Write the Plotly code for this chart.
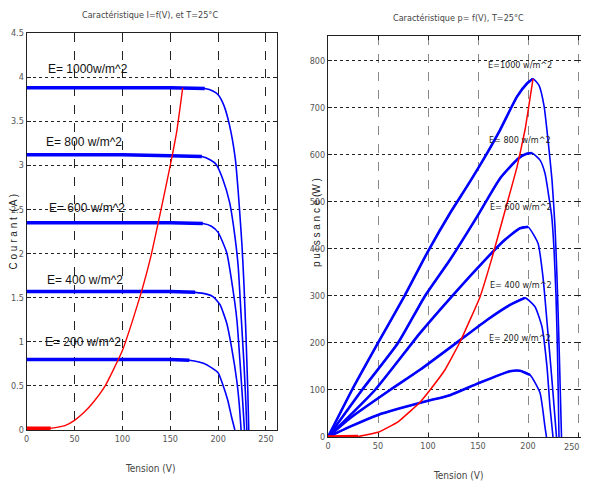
import plotly.graph_objects as go

# ---------------- data: left panel, I = f(V) ----------------
v_1000 = [0, 50, 100, 150, 186, 195, 200, 206, 212, 218, 221, 223, 225, 227, 229, 231, 232]
i_1000 = [3.88, 3.88, 3.88, 3.88, 3.87, 3.84, 3.80, 3.68, 3.45, 3.07, 2.70, 2.40, 2.08, 1.65, 1.10, 0.45, 0]
v_800 = [0, 50, 100, 150, 183, 192, 198, 205, 212, 217.6, 221, 224, 227, 229, 230]
i_800 = [3.12, 3.12, 3.12, 3.11, 3.10, 3.06, 3.01, 2.84, 2.58, 2.19, 1.85, 1.30, 0.75, 0.30, 0]
v_600 = [0, 50, 100, 150, 184, 193, 200, 209, 214, 219.6, 223, 225.5, 227.5]
i_600 = [2.35, 2.35, 2.35, 2.35, 2.34, 2.31, 2.24, 2.01, 1.70, 1.25, 0.75, 0.35, 0]
v_400 = [0, 50, 100, 150, 176, 188, 195, 202, 209, 214, 219.6, 222, 224]
i_400 = [1.57, 1.57, 1.57, 1.57, 1.56, 1.54, 1.51, 1.42, 1.21, 0.94, 0.55, 0.30, 0]
v_200 = [0, 50, 100, 150, 170, 180, 188, 200, 205, 210, 214, 217.5]
i_200 = [0.80, 0.80, 0.80, 0.80, 0.79, 0.77, 0.74, 0.65, 0.51, 0.34, 0.15, 0]
v_red_i = [0, 25, 40, 50, 60, 70, 82, 90, 100, 110, 120, 130, 140, 150, 157, 163]
i_red = [0.02, 0.02, 0.05, 0.11, 0.20, 0.32, 0.50, 0.67, 0.90, 1.22, 1.57, 1.98, 2.48, 3.00, 3.40, 3.88]

# ---------------- data: right panel, P = f(V) ----------------
pv_1000 = [0, 24, 50, 77, 100, 122, 139, 155, 172, 189, 199, 205, 211, 216, 220, 224, 227, 229, 231, 232.5, 233.5]
p_1000 = [0, 100, 200, 302, 395, 476, 533, 589, 653, 724, 752, 762, 748, 705, 632, 547, 447, 340, 200, 80, 0]
pv_800 = [0, 34, 70, 97, 122, 150, 172, 190, 198, 204, 212, 217, 220.3, 223.7, 226, 228, 229.5, 231]
p_800 = [0, 100, 200, 300, 377, 472, 550, 592, 602, 604, 589, 561, 519, 470, 400, 300, 180, 0]
pv_600 = [0, 47, 92, 125, 159, 175, 192, 200, 210, 215, 220, 224, 227, 228.5]
p_600 = [0, 100, 221, 302, 381, 416, 444, 447, 412, 340, 220, 120, 40, 0]
pv_400 = [0, 22, 62, 92, 132, 159, 182, 197, 207, 214, 219, 222, 225]
p_400 = [0, 40, 100, 143, 206, 249, 281, 296, 277, 234, 149, 64, 0]
pv_200 = [0, 22, 50, 72, 100, 122, 150, 182, 192, 202, 212, 217, 218.5]
p_200 = [0, 22, 47, 61, 77, 89, 114, 140, 141, 132, 94, 21, 0]
v_red_p = [0, 30, 50, 70, 92, 102, 117, 132, 152, 164, 180, 189, 197, 205]
p_red = [0, 1, 10, 32, 74, 100, 143, 202, 298, 381, 504, 574, 653, 762]

irradiance_labels_left = ["E= 1000w/m^2", "E= 800 w/m^2", "E= 600 w/m^2", "E= 400 w/m^2", "E= 200 w/m^2"]
label_pos_left_v = [64, 60, 63, 61, 59]
label_pos_left_i = [4.09, 3.26, 2.52, 1.70, 1.00]
irradiance_labels_right = ["E=1000 w/m^2", "E= 800 w/m^2", "E= 600 w/m^2", "E= 400 w/m^2", "E= 200 w/m^2"]
label_pos_right_v = [192, 192, 193, 193, 192]
label_pos_right_p = [791, 632, 489, 323, 210]

x_ticks = [0, 50, 100, 150, 200, 250]
x_tick_text = ["0", "50", "100", "150", "200", "250"]
x2_tick_text = ["0", "50", "100", "150", "200", ""]
i_ticks = [0, 0.5, 1, 1.5, 2, 2.5, 3, 3.5, 4, 4.5]
i_tick_text = ["0", "0.5", "1", "1.5", "2", "2.5", "3", "3.5", "4", "4.5"]
p_ticks = [0, 100, 200, 300, 400, 500, 600, 700, 800]

BLUE = "#0000ff"
RED = "#ff0000"
NARROW = "Liberation Sans Narrow, DejaVu Sans Condensed, Arial Narrow, Liberation Sans, sans-serif"
SANS = "Liberation Sans, Arial, sans-serif"

OFF = 8          # the page places the figure 8 px from the top-left corner
W, H = 589 - 2 * OFF, 489 - 2 * OFF

fig = go.Figure()

# left panel curves
iv_sets = [(v_1000, i_1000, 5), (v_800, i_800, 5), (v_600, i_600, 5), (v_400, i_400, 5), (v_200, i_200, 5)]
for v, i, nflat in iv_sets:
    fig.add_trace(go.Scatter(x=v, y=i, mode="lines", xaxis="x", yaxis="y",
                             line=dict(color=BLUE, width=1.6, shape="spline", smoothing=0.5),
                             hoverinfo="skip"))
    fig.add_trace(go.Scatter(x=v[:nflat], y=i[:nflat], mode="lines", xaxis="x", yaxis="y",
                             line=dict(color=BLUE, width=3.5), hoverinfo="skip"))
fig.add_trace(go.Scatter(x=v_red_i, y=i_red, mode="lines", xaxis="x", yaxis="y",
                         line=dict(color=RED, width=1.4, shape="spline", smoothing=0.4), hoverinfo="skip"))
fig.add_trace(go.Scatter(x=v_red_i[:2], y=i_red[:2], mode="lines", xaxis="x", yaxis="y",
                         line=dict(color=RED, width=3.5), hoverinfo="skip"))

# right panel curves
pv_sets = [(pv_1000, p_1000, 12), (pv_800, p_800, 10), (pv_600, p_600, 8), (pv_400, p_400, 8), (pv_200, p_200, 10)]
for v, p, npk in pv_sets:
    fig.add_trace(go.Scatter(x=v, y=p, mode="lines", xaxis="x2", yaxis="y2",
                             line=dict(color=BLUE, width=1.6, shape="spline", smoothing=0.5),
                             hoverinfo="skip"))
    fig.add_trace(go.Scatter(x=v[:npk], y=p[:npk], mode="lines", xaxis="x2", yaxis="y2",
                             line=dict(color=BLUE, width=2.6, shape="spline", smoothing=0.5),
                             hoverinfo="skip"))
fig.add_trace(go.Scatter(x=v_red_p, y=p_red, mode="lines", xaxis="x2", yaxis="y2",
                         line=dict(color=RED, width=1.5, shape="spline", smoothing=0.3), hoverinfo="skip"))
fig.add_trace(go.Scatter(x=v_red_p[:2], y=p_red[:2], mode="lines", xaxis="x2", yaxis="y2",
                         line=dict(color=RED, width=3.5), hoverinfo="skip"))

annotations = []
for t, xv, yv in zip(irradiance_labels_left, label_pos_left_v, label_pos_left_i):
    annotations.append(dict(text=t, x=xv, y=yv, xref="x", yref="y", showarrow=False,
                            font=dict(family=SANS, size=12, color="#111")))
for t, xv, yv in zip(irradiance_labels_right, label_pos_right_v, label_pos_right_p):
    annotations.append(dict(text=t, x=xv, y=yv, xref="x2", yref="y2", showarrow=False,
                            font=dict(family=NARROW, size=9, color="#222")))


def px(xp):
    return (xp - OFF) / W


def py(yp):
    return 1 - (yp - OFF) / H


tick_font = dict(family=NARROW, size=9, color="#555")
title_font = dict(family=NARROW, size=9, color="#444")
annotations += [
    dict(text="Caractéristique I=f(V), et T=25°C", x=px(150), y=py(15), xref="paper", yref="paper",
         showarrow=False, font=title_font, xanchor="center", yanchor="middle"),
    dict(text="Caractéristique p= f(V), T=25°C", x=px(458), y=py(18), xref="paper", yref="paper",
         showarrow=False, font=title_font, xanchor="center", yanchor="middle"),
    dict(text="Tension (V)", x=px(150), y=py(468), xref="paper", yref="paper",
         showarrow=False, font=dict(family=NARROW, size=10, color="#444"), xanchor="center", yanchor="middle"),
    dict(text="Tension (V)", x=px(458), y=py(475), xref="paper", yref="paper",
         showarrow=False, font=dict(family=NARROW, size=10, color="#444"), xanchor="center", yanchor="middle"),
    dict(text="C o u r a n t  ( A )", x=px(12.5), y=py(232), xref="paper", yref="paper", textangle=-90,
         showarrow=False, font=dict(family=SANS, size=10, color="#222"), xanchor="center", yanchor="middle"),
    dict(text="p u i s s a n c e (W )", x=px(316), y=py(223), xref="paper", yref="paper", textangle=-90,
         showarrow=False, font=dict(family=SANS, size=10, color="#222"), xanchor="center", yanchor="middle"),
    # last tick label of the right x axis, kept inside the page
    dict(text=x_tick_text[-1], x=1, y=py(447), xref="paper", yref="paper", showarrow=False,
         font=tick_font, xanchor="right", yanchor="middle"),
]

common = dict(showline=True, linecolor="#222", linewidth=1.2, mirror="ticks", ticks="inside",
              ticklen=4, tickcolor="#222", zeroline=False, tickfont=tick_font, showgrid=True,
              layer="below traces", automargin=False)

RIGHT_EDGE = 580.5  # page x of the right panel's right border
fig.update_layout(
    width=W, height=H, margin=dict(l=0, r=0, t=0, b=0, pad=0, autoexpand=False),
    paper_bgcolor="white", plot_bgcolor="white", showlegend=False,
    xaxis=dict(domain=[px(26.7), px(276.7)], range=[0, 261.2], tickvals=x_ticks, ticktext=x_tick_text,
               anchor="y", gridcolor="#222", griddash="dash", gridwidth=1, **common),
    yaxis=dict(domain=[py(430), py(33)], range=[0, 4.5], tickvals=i_ticks, ticktext=i_tick_text, anchor="x",
               gridcolor="#222", griddash="dot", gridwidth=1, **common),
    xaxis2=dict(domain=[px(328), px(RIGHT_EDGE)], range=[0, RIGHT_EDGE - 328], tickvals=x_ticks,
                ticktext=x2_tick_text, anchor="y2",
                gridcolor="#888", griddash="dash", gridwidth=1, **common),
    yaxis2=dict(domain=[py(437), py(36)], range=[0, 853], tickvals=p_ticks, anchor="x2",
                gridcolor="#222", griddash="dot", gridwidth=1, **common),
    annotations=annotations,
)

fig.write_html("out.html")
